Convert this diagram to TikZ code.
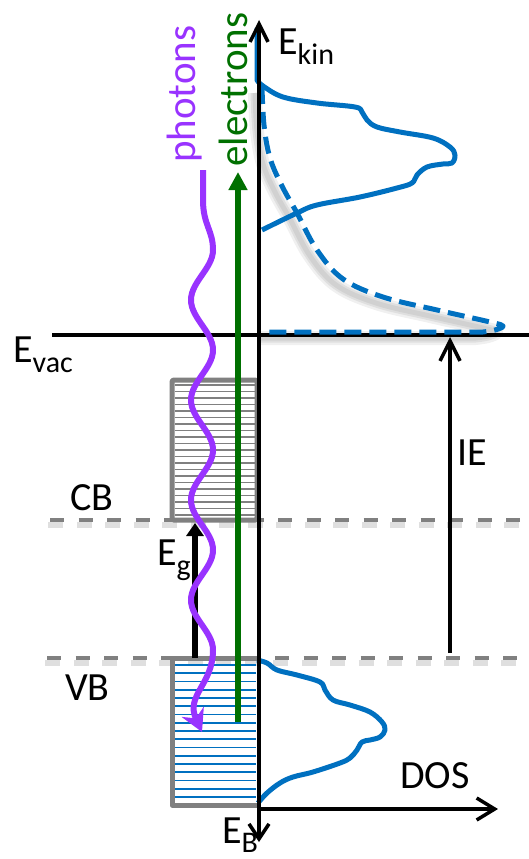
\documentclass[tikz,border=0pt]{standalone}
\usepackage{fontspec}
\setmainfont{Carlito}
\usetikzlibrary{arrows.meta}
\definecolor{dosblue}{RGB}{0,112,192}
\definecolor{bandgrey}{RGB}{128,128,128}
\definecolor{phot}{RGB}{153,51,255}
\definecolor{elec}{RGB}{0,112,0}
\newcommand\lsub[2][10]{\raisebox{-#1pt}{\fontsize{30}{30}\selectfont #2}}
\newcommand\dcurve[1]{\draw[#1] plot[smooth, tension=0.6] coordinates {(262,87) (264,125) (270,158) (282,186) (297,213) (317,250) (343,279) (383,297) (437,310) (490,322) (503,326) (495,330) (483,332)} -- (267,332);}
\begin{document}
\begin{tikzpicture}[x=1pt,y=-1pt, line join=round,
  lbl/.style={inner sep=0pt, anchor=base west, font=\fontsize{40}{40}\selectfont},
  vlbl/.style={inner sep=0pt, anchor=base west, rotate=90, font=\fontsize{41}{41}\selectfont},
  bandline/.style={bandgrey, line width=4.3, dash pattern=on 14pt off 14.5pt},
  bandshadow/.style={gray, opacity=0.25, line width=6, dash pattern=on 15pt off 13.5pt},
  dosline/.style={dosblue, line width=5},
  axis/.style={black, line width=3.5}]
\useasboundingbox (0,0) rectangle (529,859);

% shadows
\draw[bandshadow] (48,525) -- (529,525);
\draw[bandshadow] (45,663) -- (529,663);
\begin{scope}[shift={(-7,6)}]
  \dcurve{gray, opacity=0.12, line width=14}
  \dcurve{gray, opacity=0.15, line width=9}
  \dcurve{gray, opacity=0.15, line width=5}
\end{scope}

% band level lines
\draw[bandline] (50,520) -- (529,520);
\draw[bandline] (47,658) -- (529,658);

% conduction band box
\foreach \i in {0,...,20} \draw[bandgrey, line width=1.6] (175,{385+6.5*\i}) -- (256,{385+6.5*\i});
\draw[bandgrey, line width=5, rounded corners=1.5] (172,380) rectangle (257,520);

% valence band box
\foreach \i in {0,...,16} \draw[dosblue, line width=1.8] (175,{665+8.25*\i}) -- (256,{665+8.25*\i});
\draw[bandgrey, line width=5] (257,658) -- (172,658) -- (172,805) -- (257,805);

% vacuum level
\draw[black, line width=4] (52,335) -- (529,335);

% spectra
\draw[dosline] (257,28) -- (257,80) -- plot[smooth, tension=0.6] coordinates {(257,80) (263,86) (283,97) (317,103) (355,107) (362,112) (367,120) (377,127) (400,132) (433,138) (450,147) (455,155) (452,163) (443,164) (427,167) (417,175) (412,183) (397,188) (360,197) (317,205) (297,213) (262,230)};
\dcurve{dosline, dash pattern=on 17pt off 8pt}
\draw[dosline] plot[smooth, tension=0.6] coordinates {(257,660) (267,663) (277,670) (297,675) (320,682) (325,690) (333,700) (350,705) (370,712) (382,722) (385,730) (380,737) (370,740) (362,742) (357,750) (350,758) (340,763) (313,772) (293,777) (280,783) (267,793) (258,803)};

% axes
\coordinate (ebot) at (259,842);
\coordinate (etop) at (259,20);
\coordinate (origin) at (257.5,809);
\coordinate (dosend) at (498,809);
\draw[axis, {Straight Barb[length=15pt,width=20pt]}-{Straight Barb[length=18pt,width=18pt]}] (ebot) -- (etop);
\draw[axis, -{Straight Barb[length=18pt,width=22pt]}] (origin) -- (dosend);

% IE arrow
\coordinate (ie0) at (450,653);
\coordinate (ie1) at (450,337);
\draw[axis, -{Straight Barb[length=20pt,width=20pt]}] (ie0) -- (ie1);

% Eg arrow
\coordinate (eg0) at (195,658);
\coordinate (eg1) at (195,523);
\draw[black, line width=6, -{Triangle[length=13pt,width=17pt]}] (eg0) -- (eg1);

% electrons arrow
\coordinate (el0) at (238,722);
\coordinate (el1) at (238,172);
\draw[elec, line width=6, -{Triangle[length=18pt,width=18pt]}] (el0) -- (el1);

% photon wave
\draw[phot, line width=6, -{Stealth[length=22pt,width=24pt,inset=7pt]}]
  (203,170) -- (203,200) .. controls (203,225) and (213,230) .. (213,250)
  -- plot[domain=250:650, samples=121] ({202+11*cos(3.6*(\x-250))}, \x)
  .. controls (213,685) and (185,695) .. (202,732);

% labels
\node[vlbl, text=phot] (photons) at (195,163) {photons};
\node[vlbl, text=elec] (electrons) at (247,167) {electrons};
\node[lbl] (ekin) at (278,55) {E\lsub{kin}};
\node[lbl] (evac) at (13,362) {E\lsub{vac}};
\node[lbl] (cb) at (70,510) {CB};
\node[lbl] (vb) at (65,700) {VB};
\node[lbl] (eg) at (157,565) {E\lsub{g}};
\node[lbl] (ie) at (457,465) {IE};
\node[lbl] (dos) at (400,788) {DOS};
\node[lbl] (eb) at (222,843) {E\lsub[9]{B}};
\end{tikzpicture}
\end{document}
